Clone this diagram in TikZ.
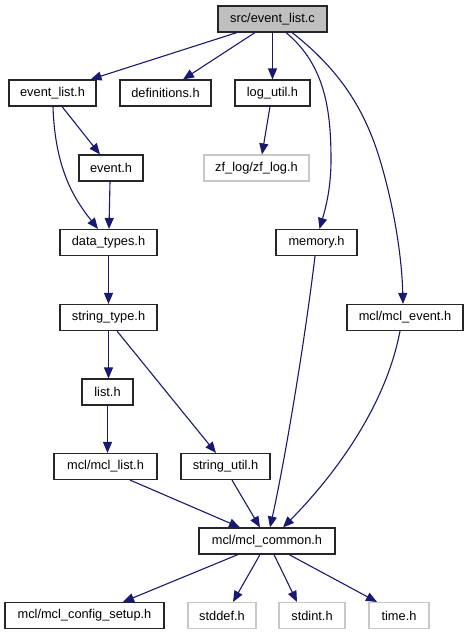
\documentclass[tikz,border=0pt]{standalone}
\usepackage{fontspec}
\setmainfont{Liberation Sans}
\usetikzlibrary{arrows.meta}
\definecolor{edgeblue}{HTML}{191970}
\definecolor{grayfill}{HTML}{BFBFBF}
\definecolor{grayborder}{HTML}{C8C8C8}
\tikzset{
  hbox/.style={draw=black!85, line width=1.1pt, fill=white, inner sep=0pt, minimum height=26pt,
    font=\fontsize{12.8pt}{14pt}\selectfont},
  extbox/.style={hbox, draw=grayborder},
  mainbox/.style={hbox, fill=grayfill},
  dep/.style={draw=edgeblue, line width=1.1pt, -{Triangle[length=11pt,width=9pt]}},
}
\begin{document}
\begin{tikzpicture}[x=1pt,y=-1pt]
\useasboundingbox (0,0) rectangle (468,635);
\node[mainbox, minimum width=109pt] (src) at (272.5,19) {src/event\_list.c};
\node[hbox, minimum width=87pt] (evlist) at (52.5,93) {event\_list.h};
\node[hbox, minimum width=91pt] (defs) at (165.5,93) {definitions.h};
\node[hbox, minimum width=75pt] (logutil) at (272.5,93) {log\_util.h};
\node[extbox, minimum width=105pt] (zflog) at (256.5,168) {zf\_log/zf\_log.h};
\node[hbox, minimum width=64pt] (event) at (111,168) {event.h};
\node[hbox, minimum width=97pt] (dtypes) at (108.5,242.5) {data\_types.h};
\node[hbox, minimum width=81pt] (memory) at (316.5,242.5) {memory.h};
\node[hbox, minimum width=97pt] (strtype) at (108.5,317.5) {string\_type.h};
\node[hbox, minimum width=116pt] (mclevent) at (405,317.5) {mcl/mcl\_event.h};
\node[hbox, minimum width=51pt] (list) at (107.5,392) {list.h};
\node[hbox, minimum width=103pt] (mcllist) at (105.5,466.5) {mcl/mcl\_list.h};
\node[hbox, minimum width=89pt] (strutil) at (225.5,466.5) {string\_util.h};
\node[hbox, minimum width=136pt] (common) at (267,541) {mcl/mcl\_common.h};
\node[hbox, minimum width=159pt] (config) at (84.5,615.5) {mcl/mcl\_config\_setup.h};
\node[extbox, minimum width=68pt] (stddef) at (222,615.5) {stddef.h};
\node[extbox, minimum width=66pt] (stdint) at (312,615.5) {stdint.h};
\node[extbox, minimum width=60pt] (timeh) at (399,615.5) {time.h};

\draw[dep] ([xshift=-35.5pt]src.south) -- ([xshift=38pt]evlist.north);
\draw[dep] ([xshift=-17.5pt]src.south) -- ([xshift=17.5pt]defs.north);
\draw[dep] (src.south) -- (logutil.north);
\draw[dep] ([xshift=13.5pt]src.south) .. controls (325,65) and (331,110) .. (331,160)
  .. controls (331,190) and (325,210) .. ([xshift=3pt]memory.north);
\draw[dep] ([xshift=19.5pt]src.south) .. controls (340,70) and (365,110) .. (380,160)
  .. controls (395,210) and (402,260) .. ([xshift=-2pt]mclevent.north);
\draw[dep] ([xshift=9.5pt]evlist.south) -- ([xshift=-11pt]event.north);
\draw[dep] ([xshift=0.5pt]evlist.south) .. controls (55,170) and (75,200) .. ([xshift=-10.5pt]dtypes.north);
\draw[dep] ([xshift=-1pt]event.south) -- ([xshift=0.5pt]dtypes.north);
\draw[dep] ([xshift=-2.5pt]logutil.south) -- ([xshift=5.5pt]zflog.north);
\draw[dep] (dtypes.south) -- (strtype.north);
\draw[dep] (strtype.south) -- ([xshift=1pt]list.north);
\draw[dep] ([xshift=8.5pt]strtype.south) -- ([xshift=-9.5pt]strutil.north);
\draw[dep] (list.south) -- ([xshift=2pt]mcllist.north);
\draw[dep] ([xshift=24.5pt]mcllist.south) -- ([xshift=-27pt]common.north);
\draw[dep] ([xshift=6.5pt]strutil.south) -- ([xshift=-7pt]common.north);
\draw[dep] ([xshift=-1.5pt]memory.south) .. controls (305,340) and (285,460) .. ([xshift=3pt]common.north);
\draw[dep] ([xshift=-5pt]mclevent.south) .. controls (385,410) and (330,480) .. ([xshift=16pt]common.north);
\draw[dep] ([xshift=-29pt]common.south) -- ([xshift=38.5pt]config.north);
\draw[dep] ([xshift=-7pt]common.south) -- ([xshift=11pt]stddef.north);
\draw[dep] ([xshift=7pt]common.south) -- ([xshift=-15pt]stdint.north);
\draw[dep] ([xshift=22pt]common.south) -- ([xshift=-22pt]timeh.north);
\end{tikzpicture}
\end{document}
